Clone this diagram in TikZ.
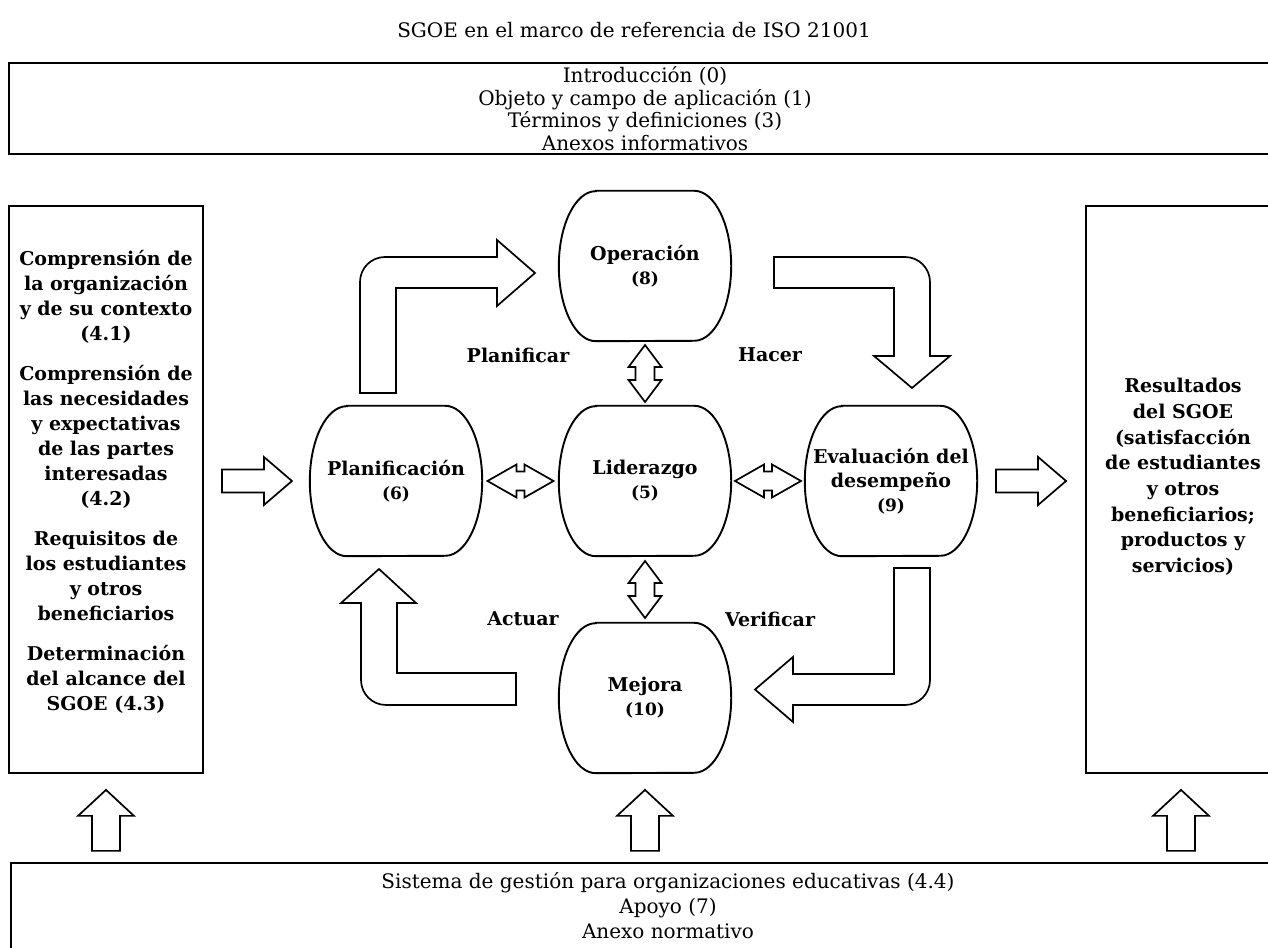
\documentclass[tikz,border=0pt]{standalone}
\usepackage{fontspec}
\setmainfont{DejaVu Serif}
\usetikzlibrary{calc}

\newcommand{\stagenum}[1]{{\fontsize{17}{24}\selectfont #1}}

\tikzset{
    box/.style={draw, line width=2.2pt},
    boxtext/.style={align=center, font=\fontsize{20}{25}\selectfont},
    stage/.style={minimum width=172pt, minimum height=150pt, align=center, font=\fontsize{19}{24}\selectfont\bfseries},
    stageline/.style={line width=1.9pt},
    arrline/.style={draw, line width=1.7pt, fill=white},
    steplabel/.style={font=\fontsize{19}{24}\selectfont\bfseries},
    uparr/.pic={\draw[arrline] (-14,0) -- (-14,35) -- (-28,35) -- (0,61) -- (28,35) -- (14,35) -- (14,0) -- cycle;},
    rightarr/.pic={\draw[arrline] (-35,-11.5) -- (7,-11.5) -- (7,-24) -- (35,0) -- (7,24) -- (7,11.5) -- (-35,11.5) -- cycle;},
    pics/dblarr/.style n args={2}{code={\draw[arrline] (-#1,0) -- (-#2,16.5) -- (-#2,9.5) -- (#2,9.5) -- (#2,16.5) -- (#1,0) -- (#2,-16.5) -- (#2,-9.5) -- (-#2,-9.5) -- (-#2,-16.5) -- cycle;}}
}

\begin{document}
\begin{tikzpicture}[x=1pt, y=1pt]
    \path[use as bounding box, clip] (0,0) rectangle (1268,947);

    \node[boxtext] (title) at (634,917) {SGOE en el marco de referencia de ISO 21001};

    % frame boxes
    \node[box, boxtext, font=\fontsize{20}{22.6}\selectfont, minimum width=1272pt, minimum height=91pt] (topbox) at (645,838.5) {Introducción (0)\\Objeto y campo de aplicación (1)\\Términos y definiciones (3)\\Anexos informativos};
    \node[box, minimum width=194pt, minimum height=567pt] (leftbox) at (106,457.5) {};
    \node[box, minimum width=190pt, minimum height=567pt] (rightbox) at (1181,457.5) {};
    \node[box, minimum width=1314pt, minimum height=104pt] (botbox) at (668,32) {};

    \node[boxtext, font=\fontsize{19}{25}\selectfont\bfseries] (lefttext) at ($(leftbox.center)+(0,7.5)$) {Comprensión de\\la organización\\y de su contexto\\(4.1)\\[15pt]Comprensión de\\las necesidades\\y expectativas\\de las partes\\interesadas\\(4.2)\\[15pt]Requisitos de\\los estudiantes\\y otros\\beneficiarios\\[15pt]Determinación\\del alcance del\\SGOE (4.3)};
    \node[boxtext, font=\fontsize{19}{25.7}\selectfont\bfseries] (righttext) at ($(rightbox.center)+(2,12.5)$) {Resultados\\del SGOE\\(satisfacción\\de estudiantes\\y otros\\beneficiarios;\\productos y\\servicios)};
    \node[boxtext] (bottext) at ($(botbox.north)+(0,-44)$) {Sistema de gestión para organizaciones educativas (4.4)\\Apoyo (7)\\Anexo normativo};

    % PHVA stages
    \node[stage] at (645,681) (oper) {Operación\\\stagenum{(8)}};
    \node[stage] at (396,466) (plan) {Planificación\\\stagenum{(6)}};
    \node[stage] at (645,466) (lid)  {Liderazgo\\\stagenum{(5)}};
    \node[stage] at (891,466) (eval) {Evaluación del\\desempeño\\\stagenum{(9)}};
    \node[stage] at (645,249) (mej)  {Mejora\\\stagenum{(10)}};

    \foreach \n in {oper,plan,lid,eval,mej}{
        \draw[stageline] ($(\n.north west)+(37,0)$) -- ($(\n.north east)+(-37,0)$)
            arc[start angle=90, end angle=-90, x radius=37pt, y radius=75pt]
            -- ($(\n.south west)+(37,0)$)
            arc[start angle=270, end angle=90, x radius=37pt, y radius=75pt] -- cycle;
    }

    \node[steplabel] (lblplan)   at (518,592) {Planificar};
    \node[steplabel] (lblhacer)  at (770,592) {Hacer};
    \node[steplabel] (lblactuar) at (523,328) {Actuar};
    \node[steplabel] (lblverif)  at (770,328) {Verificar};

    % bent arrows of the cycle
    \draw[arrline] (360,554) -- (360,665) arc[start angle=180, end angle=90, radius=25pt] -- (497,690) -- (497,707) -- (535,674) -- (497,641) -- (497,659) -- (396,659) -- (396,554) -- cycle;
    \draw[arrline] (774,690) -- (905,690) arc[start angle=90, end angle=0, radius=25pt] -- (930,591) -- (950,591) -- (912,559) -- (874,591) -- (894,591) -- (894,659) -- (774,659) -- cycle;
    \draw[arrline] (894,379) -- (930,379) -- (930,267) arc[start angle=0, end angle=-90, radius=25pt] -- (793,242) -- (793,225) -- (755,257.5) -- (793,290) -- (793,273) -- (894,273) -- cycle;
    \draw[arrline] (516,274) -- (397,274) -- (397,344) -- (416,344) -- (379,378) -- (341,344) -- (361,344) -- (361,267) arc[start angle=180, end angle=270, radius=25pt] -- (516,242) -- cycle;

    % links with the leadership
    \pic at ($(plan.east)!0.5!(lid.west)$) {dblarr={33}{4}};
    \pic at ($(lid.east)!0.5!(eval.west)$) {dblarr={33}{4}};
    \pic[rotate=90] at ($(oper.south)!0.5!(lid.north)$) {dblarr={28.5}{6.5}};
    \pic[rotate=90] at ($(lid.south)!0.5!(mej.north)$) {dblarr={28.5}{6.5}};

    % inputs and outputs
    \pic at ($(leftbox.east |- plan)!0.5!(plan.west)$) {rightarr};
    \pic at ($(eval.east)!0.5!(rightbox.west |- eval)$) {rightarr};
    \pic at ($(leftbox.south |- botbox.north)+(0,11)$) {uparr};
    \pic at ($(mej.south |- botbox.north)+(0,11)$) {uparr};
    \pic at ($(rightbox.south |- botbox.north)+(0,11)$) {uparr};
\end{tikzpicture}
\end{document}
